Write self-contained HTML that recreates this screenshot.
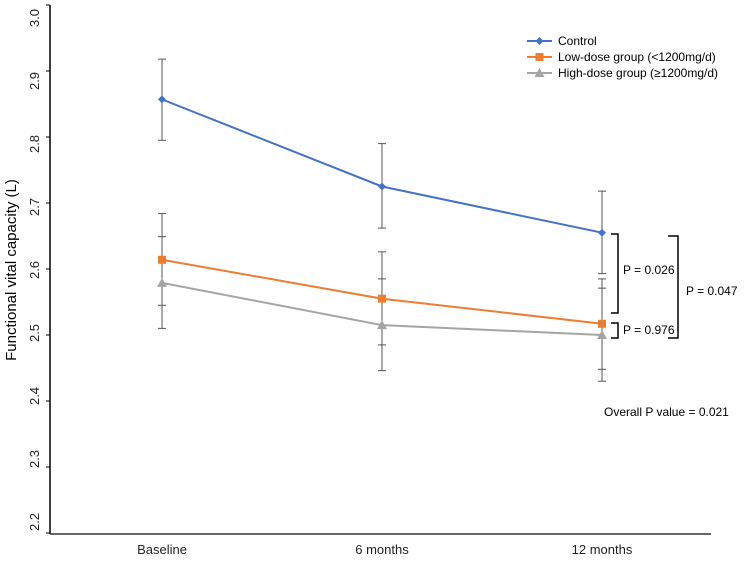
<!DOCTYPE html>
<html><head><meta charset="utf-8"><style>body{margin:0;background:#fff}svg{display:block;font-family:"Liberation Sans",sans-serif}</style></head>
<body>
<svg id="c" width="749" height="562"></svg>
<script>
const categories=["Baseline","6 months","12 months"];
const seriesNames=["Control","Low-dose group (<1200mg/d)","High-dose group (≥1200mg/d)"];
const controlVals=[2.857,2.725,2.655];
const controlHi=[2.918,2.790,2.718];
const controlLo=[2.795,2.662,2.593];
const lowVals=[2.614,2.555,2.517];
const lowHi=[2.684,2.626,2.585];
const lowLo=[2.545,2.485,2.448];
const highVals=[2.579,2.515,2.500];
const highHi=[2.649,2.585,2.571];
const highLo=[2.510,2.446,2.430];
const yTicks=[2.2,2.3,2.4,2.5,2.6,2.7,2.8,2.9,3.0];
const svg=document.getElementById('c');const NS='http://www.w3.org/2000/svg';
function el(t,a,txt){const e=document.createElementNS(NS,t);for(const k in a)e.setAttribute(k,a[k]);if(txt!==undefined)e.textContent=txt;svg.appendChild(e);return e;}
const y=v=>5+(3.0-v)*660;
const x=i=>162+i*220;
let e;
e=el('line',{x1:50,y1:5,x2:50,y2:534,stroke:'#000','stroke-width':1.5});


e=el('line',{x1:50,y1:534,x2:711,y2:534,stroke:'#333','stroke-width':1.5});


yTicks.forEach(v=>{
 e=el('line',{x1:46,y1:y(v),x2:50,y2:y(v),stroke:'#000'});
 
 
 const ly=18+(3.0-v)*630;
 e=el('text',{x:0,y:0,transform:`translate(39,${ly}) rotate(-90)`,'text-anchor':'middle','font-size':13,fill:'#222'},v.toFixed(1));
 
 
});
e=el('text',{x:0,y:0,transform:'translate(16,270) rotate(-90)','text-anchor':'middle','font-size':15,fill:'#000'},'Functional vital capacity (L)');


categories.forEach((c,i)=>{
 e=el('text',{x:x(i),y:554,'text-anchor':'middle','font-size':13,fill:'#222'},c);
 
 
});
const series=[[controlVals,controlHi,controlLo,'#4472c4','diamond'],[lowVals,lowHi,lowLo,'#ed7d31','square'],[highVals,highHi,highLo,'#a5a5a5','triangle']];
series.forEach(([v,hi,lo])=>{v.forEach((_,i)=>{
 e=el('line',{x1:x(i),y1:y(hi[i]),x2:x(i),y2:y(lo[i]),stroke:'#555','stroke-width':1});
 
 
 [hi[i],lo[i]].forEach(b=>{e=el('line',{x1:x(i)-4,y1:y(b),x2:x(i)+4,y2:y(b),stroke:'#555'});
 
 });
});});
function marker(shape,cx,cy,col){
 if(shape==='diamond')return el('polygon',{points:`${cx},${cy-4} ${cx+4},${cy} ${cx},${cy+4} ${cx-4},${cy}`,fill:col});
 if(shape==='square')return el('rect',{x:cx-4,y:cy-4,width:8,height:8,fill:col});
 return el('polygon',{points:`${cx},${cy-5} ${cx+5},${cy+4} ${cx-5},${cy+4}`,fill:col});
}
series.forEach(([v,,,col,sh],si)=>{
 e=el('polyline',{points:v.map((d,i)=>x(i)+','+y(d)).join(' '),fill:'none',stroke:col,'stroke-width':2});
 
 
 v.forEach((d,i)=>{e=marker(sh,x(i),y(d),col);
 
 });
 const ly=41+si*16;
 e=el('line',{x1:527,y1:ly,x2:552,y2:ly,stroke:col,'stroke-width':2});
 
 
 e=marker(sh,539.5,ly,col);
 
 
 e=el('text',{x:558,y:ly+4,'font-size':12,fill:'#000'},seriesNames[si]);
 
 
});
function bracket(x1,x2,y1,y2){return el('path',{d:`M${x1},${y1} H${x2} V${y2} H${x1}`,fill:'none',stroke:'#000','stroke-width':1.5});}
e=bracket(611,618,234,313);
e=bracket(611,618,323,338);
e=bracket(668,678,236,338);
[['P = 0.026',623,274],['P = 0.976',623,334],['P = 0.047',686,295],['Overall P value = 0.021',604,416]].forEach(([t,tx,ty])=>{
 e=el('text',{x:tx,y:ty,'font-size':12,fill:'#000'},t);
 
 
});
</script>
</body></html>
